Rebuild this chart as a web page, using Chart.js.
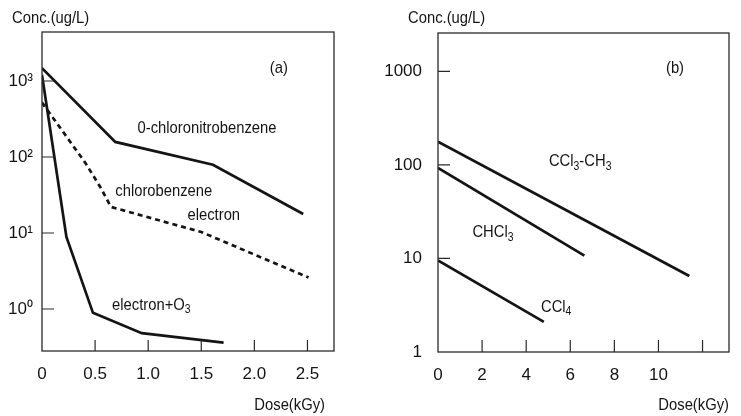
<!DOCTYPE html>
<html>
<head>
<meta charset="utf-8">
<script src="https://cdn.jsdelivr.net/npm/chart.js@4.4.1/dist/chart.umd.min.js"></script>
<style>
  html, body { margin: 0; padding: 0; background: #fff; }
  #wrap { position: relative; width: 741px; height: 416px; }
  .panel { position: absolute; top: 0; height: 416px; }
  #panelA { left: 0; width: 370px; }
  #panelB { left: 370px; width: 371px; }
</style>
</head>
<body>
<div id="wrap">
  <div class="panel" id="panelA"><canvas id="chartA"></canvas></div>
  <div class="panel" id="panelB"><canvas id="chartB"></canvas></div>
</div>
<script>
const FONT = "'Liberation Sans Narrow', 'Liberation Sans', Arial, sans-serif";
const INK = '#141414';
const SQUEEZE = 0.87; // the printed labels use a condensed face

// Panel (a) axes
const doseTicksA = [0, 0.5, 1.0, 1.5, 2.0, 2.5];
const concTicksA = [1, 10, 100, 1000];
const concLabelsA = ['10⁰', '10¹', '10²', '10³'];

// Panel (a) series
const chloronitroDose = [0, 0.69, 1.61, 2.46];
const chloronitroConc = [1480, 158, 79, 17.8];
const electronDose = [0, 0.2, 0.41, 0.55, 0.65, 1.5, 2.51];
const electronConc = [520, 213, 83, 40, 22, 10.3, 2.6];
const ozoneDose = [0, 0.23, 0.48, 0.94, 1.71];
const ozoneConc = [1200, 8.9, 0.89, 0.48, 0.36];

// Panel (b) axes
const doseTicksB = [0, 2, 4, 6, 8, 10, 12];
const doseLabelsB = ['0', '2', '4', '6', '8', '10', ''];
const concTicksB = [1, 10, 100, 1000];
const concLabelsB = ['1', '10', '100', '1000'];

// Panel (b) series
const ccl3ch3Dose = [0, 11.4];
const ccl3ch3Conc = [177, 6.5];
const chcl3Dose = [0, 6.64];
const chcl3Conc = [93, 10.7];
const ccl4Dose = [0, 4.8];
const ccl4Conc = [9.5, 2.1];

// Curve labels, placed in data units; parts are [text, 'sub'|'sup'|'']
const notesA = [
    { parts: [['(a)', '']], x: 2.23, y: 1480, align: 'center' },
    { parts: [['0-chloronitrobenzene', '']], x: 0.9, y: 240 },
    { parts: [['chlorobenzene', '']], x: 0.69, y: 35 },
    { parts: [['electron', '']], x: 1.37, y: 17 },
    { parts: [['electron+O', ''], ['3', 'sub']], x: 0.66, y: 1.12 }
];
const notesB = [
    { parts: [['(b)', '']], x: 10.75, y: 1070, align: 'center' },
    { parts: [['CCl', ''], ['3', 'sub'], ['-CH', ''], ['3', 'sub']], x: 5.03, y: 108 },
    { parts: [['CHCl', ''], ['3', 'sub']], x: 1.56, y: 18.9 },
    { parts: [['CCl', ''], ['4', 'sub']], x: 4.67, y: 3.0 }
];

function pts(xs, ys) {
    return xs.map((x, i) => ({ x: x, y: ys[i] }));
}

// Draws mixed normal/sub/sup text, squeezed horizontally
function drawRich(ctx, parts, x, y, size, align) {
    const big = size + 'px ' + FONT;
    const small = Math.round(size * 0.7) + 'px ' + FONT;
    let total = 0;
    parts.forEach(([t, mode]) => {
        ctx.font = mode ? small : big;
        total += ctx.measureText(t).width;
    });
    let cx = align === 'center' ? -total / 2 : (align === 'right' ? -total : 0);
    ctx.save();
    ctx.translate(x, y);
    ctx.scale(SQUEEZE, 1);
    ctx.textBaseline = 'middle';
    ctx.textAlign = 'left';
    parts.forEach(([t, mode]) => {
        ctx.font = mode ? small : big;
        const dy = mode === 'sub' ? size * 0.28 : (mode === 'sup' ? -size * 0.3 : 0);
        ctx.fillText(t, cx, dy);
        cx += ctx.measureText(t).width;
    });
    ctx.restore();
}

// Frame, inward ticks, titles and curve labels
const framePlugin = {
    id: 'frame',
    afterDraw(chart, args, opts) {
        const { ctx, chartArea: a } = chart;
        const xs = chart.scales.x, ys = chart.scales.y;
        ctx.save();
        ctx.strokeStyle = '#2a2a2a';
        ctx.lineWidth = 1.3;
        ctx.strokeRect(a.left, a.top, a.right - a.left, a.bottom - a.top);

        ctx.lineWidth = 1.2;
        ctx.beginPath();
        xs.ticks.forEach(t => {
            const px = xs.getPixelForValue(t.value);
            if (px > a.left + 2 && px < a.right - 2) {
                ctx.moveTo(px, a.bottom);
                ctx.lineTo(px, a.bottom - opts.tickX);
            }
        });
        ys.ticks.forEach(t => {
            const py = ys.getPixelForValue(t.value);
            if (py > a.top + 2 && py < a.bottom - 2) {
                ctx.moveTo(a.left, py);
                ctx.lineTo(a.left + opts.tickY, py);
            }
        });
        ctx.stroke();

        ctx.fillStyle = INK;
        drawRich(ctx, [['Conc.(ug/L)', '']], a.left - opts.concOffset, 18, 17, 'left');
        drawRich(ctx, [['Dose(kGy)', '']], a.right - opts.doseOffset, 405, 17, 'right');

        opts.notes.forEach(n => {
            drawRich(ctx, n.parts, xs.getPixelForValue(n.x), ys.getPixelForValue(n.y), 17, n.align || 'left');
        });
        ctx.restore();
    }
};

function makeChart(id, cfg) {
    const lineSet = (data, dashed) => ({
        data: data,
        borderColor: INK,
        borderWidth: 2.7,
        borderDash: dashed ? [5, 4] : [],
        pointRadius: 0,
        fill: false,
        tension: 0
    });
    return new Chart(document.getElementById(id), {
        type: 'line',
        data: { datasets: cfg.series.map(s => lineSet(s.data, s.dashed)) },
        plugins: [framePlugin],
        options: {
            responsive: true,
            maintainAspectRatio: false,
            animation: false,
            layout: { padding: cfg.padding },
            plugins: {
                legend: { display: false },
                tooltip: { enabled: false },
                frame: cfg.frame
            },
            scales: {
                x: {
                    type: 'linear',
                    min: cfg.xMin,
                    max: cfg.xMax,
                    afterBuildTicks: s => { s.ticks = cfg.xTicks.map(v => ({ value: v })); },
                    afterFit: s => { s.height = cfg.xHeight; },
                    grid: { display: false, drawTicks: false },
                    border: { display: false },
                    ticks: {
                        autoSkip: false,
                        maxRotation: 0,
                        padding: 13,
                        color: INK,
                        font: { family: FONT, size: 17 },
                        callback: cfg.xLabel
                    }
                },
                y: {
                    type: 'logarithmic',
                    min: cfg.yMin,
                    max: cfg.yMax,
                    afterBuildTicks: s => { s.ticks = cfg.yTicks.map(v => ({ value: v })); },
                    afterFit: s => { s.width = cfg.yWidth; },
                    grid: { display: false, drawTicks: false },
                    border: { display: false },
                    ticks: {
                        autoSkip: false,
                        padding: cfg.yPad,
                        color: INK,
                        font: { family: FONT, size: 17 },
                        callback: v => cfg.yLabels[cfg.yTicks.indexOf(v)]
                    }
                }
            }
        }
    });
}

makeChart('chartA', {
    series: [
        { data: pts(chloronitroDose, chloronitroConc) },
        { data: pts(electronDose, electronConc), dashed: true },
        { data: pts(ozoneDose, ozoneConc) }
    ],
    padding: { top: 32, right: 36, left: 0, bottom: 0 },
    xMin: 0, xMax: 2.75, xTicks: doseTicksA, xHeight: 65,
    xLabel: v => (v === 0 ? '0' : v.toFixed(1)),
    yMin: 0.28, yMax: 4416, yTicks: concTicksA, yLabels: concLabelsA,
    yWidth: 42, yPad: 9,
    frame: { tickX: 11, tickY: 12, concOffset: 30, doseOffset: 9, notes: notesA }
});

makeChart('chartB', {
    series: [
        { data: pts(ccl3ch3Dose, ccl3ch3Conc) },
        { data: pts(chcl3Dose, chcl3Conc) },
        { data: pts(ccl4Dose, ccl4Conc) }
    ],
    padding: { top: 33, right: 12, left: 0, bottom: 0 },
    xMin: 0, xMax: 13.2, xTicks: doseTicksB, xHeight: 64,
    xLabel: v => doseLabelsB[doseTicksB.indexOf(v)],
    yMin: 1, yMax: 2570, yTicks: concTicksB, yLabels: concLabelsB,
    yWidth: 68, yPad: 16,
    frame: { tickX: 12, tickY: 12, concOffset: 30, doseOffset: 0, notes: notesB }
});
</script>
</body>
</html>
